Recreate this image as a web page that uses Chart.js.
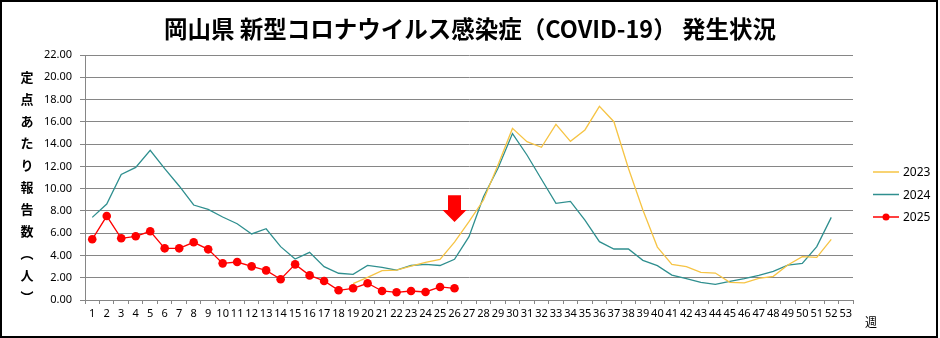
<!DOCTYPE html>
<html lang="ja">
<head>
<meta charset="UTF-8">
<title>岡山県 新型コロナウイルス感染症（COVID-19） 発生状況</title>
<script src="https://cdn.jsdelivr.net/npm/chart.js"></script>
<style>
  html, body { margin: 0; padding: 0; background: #fff; }
  #wrap { width: 940px; height: 338px; position: relative; }
</style>
</head>
<body>
<div id="wrap"><canvas id="chart" width="940" height="338"></canvas></div>
<script>
// weeks 1..53
const weeks = [];
for (let i = 1; i <= 53; i++) weeks.push(String(i));

const yTicks = [0, 2, 4, 6, 8, 10, 12, 14, 16, 18, 20, 22];

const cases2023 = [null, null, null, null, null, null, null, null, null, null,
  null, null, null, null, null, null, null, null, 1.47, 2.03,
  2.63, 2.69, 3.05, 3.38, 3.65, 5.2, 7.03, 8.98, 12.12, 15.41,
  14.22, 13.71, 15.77, 14.25, 15.27, 17.39, 16.01, 11.83, 8.08, 4.75,
  3.2, 3.0, 2.48, 2.42, 1.59, 1.53, 1.95, 2.13, 3.14, 3.89,
  3.83, 5.45, null];

const cases2024 = [7.42, 8.62, 11.28, 11.91, 13.44, 11.8, 10.24, 8.53, 8.14, 7.45,
  6.85, 5.93, 6.4, 4.79, 3.68, 4.28, 3.0, 2.4, 2.3, 3.1,
  2.93, 2.69, 3.1, 3.2, 3.1, 3.65, 5.69, 9.28, 11.83, 14.94,
  13.02, 10.84, 8.68, 8.86, 7.18, 5.24, 4.58, 4.58, 3.56, 3.08,
  2.24, 1.92, 1.59, 1.41, 1.68, 1.92, 2.22, 2.57, 3.14, 3.29,
  4.79, 7.42, null];

const cases2025 = [5.45, 7.54, 5.54, 5.72, 6.17, 4.64, 4.64, 5.18, 4.55, 3.29,
  3.41, 3.02, 2.66, 1.86, 3.2, 2.21, 1.71, 0.87, 1.05, 1.5,
  0.81, 0.69, 0.81, 0.72, 1.17, 1.05];

const seriesNames = ['2023', '2024', '2025'];
const seriesColors = ['#F6C445', '#2F8F8F', '#FF0000'];

// arrow annotation (week, value range)
const arrowWeek = '26';
const arrowTop = 9.4;
const arrowTip = 7.0;

const titleText = '岡山県 新型コロナウイルス感染症（COVID-19） 発生状況';
const yTitleChars = ['定', '点', 'あ', 'た', 'り', '報', '告', '数', '︵', '人', '︶'];

const jpFont = '"Noto Sans CJK JP", "Noto Sans", sans-serif';
const numFont = '"Noto Sans", "Liberation Sans", sans-serif';

const decor = {
  id: 'decor',
  afterDraw(chart) {
    const ctx = chart.ctx;
    const x = chart.scales.x, y = chart.scales.y;
    ctx.save();

    // title
    ctx.fillStyle = '#000';
    ctx.font = 'bold 23.5px ' + jpFont;
    ctx.textAlign = 'center';
    ctx.textBaseline = 'middle';
    ctx.fillText(titleText, 470, 29);

    // vertical y title
    ctx.font = 'bold 13px ' + jpFont;
    yTitleChars.forEach((c, i) => {
      ctx.fillText(c, 27, 77 + i * 22);
    });

    // week unit
    ctx.font = '12px ' + jpFont;
    ctx.fillText('週', 871, 322);

    // arrow
    const ax = x.getPixelForValue(weeks.indexOf(arrowWeek));
    const aTop = y.getPixelForValue(arrowTop);
    const aTip = y.getPixelForValue(arrowTip);
    const headH = (aTip - aTop) * 0.45;
    ctx.fillStyle = '#FF0000';
    ctx.beginPath();
    ctx.moveTo(ax - 6.5, aTop);
    ctx.lineTo(ax + 6.5, aTop);
    ctx.lineTo(ax + 6.5, aTip - headH);
    ctx.lineTo(ax + 12, aTip - headH);
    ctx.lineTo(ax, aTip);
    ctx.lineTo(ax - 12, aTip - headH);
    ctx.lineTo(ax - 6.5, aTip - headH);
    ctx.closePath();
    ctx.fill();

    // legend
    ctx.font = '12px ' + numFont;
    ctx.textAlign = 'left';
    seriesNames.forEach((name, i) => {
      const ly = 172 + i * 22.5;
      ctx.strokeStyle = seriesColors[i];
      ctx.lineWidth = 1.5;
      ctx.beginPath();
      ctx.moveTo(873, ly);
      ctx.lineTo(899, ly);
      ctx.stroke();
      if (i === 2) {
        ctx.fillStyle = seriesColors[i];
        ctx.beginPath();
        ctx.arc(886, ly, 3.5, 0, Math.PI * 2);
        ctx.fill();
      }
      ctx.fillStyle = '#000';
      ctx.fillText(name, 903, ly + 1);
    });

    // outer frame
    ctx.strokeStyle = '#000';
    ctx.lineWidth = 2;
    ctx.strokeRect(1, 1, 936, 336);
    ctx.restore();
  }
};

new Chart(document.getElementById('chart'), {
  type: 'line',
  data: {
    labels: weeks,
    datasets: [
      { label: seriesNames[0], data: cases2023, borderColor: seriesColors[0], borderWidth: 1.3,
        pointRadius: 0, tension: 0, spanGaps: false },
      { label: seriesNames[1], data: cases2024, borderColor: seriesColors[1], borderWidth: 1.3,
        pointRadius: 0, tension: 0 },
      { label: seriesNames[2], data: cases2025, borderColor: seriesColors[2], borderWidth: 1.3,
        pointRadius: 4.3, pointBackgroundColor: seriesColors[2], pointBorderWidth: 0, tension: 0 }
    ]
  },
  options: {
    responsive: false,
    animation: false,
    layout: { padding: { top: 55, right: 87, left: 0, bottom: 0 } },
    plugins: {
      legend: { display: false },
      title: { display: false },
      tooltip: { enabled: false }
    },
    scales: {
      x: {
        offset: true,
        grid: { offset: true, drawOnChartArea: false, drawTicks: true, tickLength: 4, color: '#868686' },
        border: { color: '#868686', width: 1 },
        ticks: { autoSkip: false, maxRotation: 0, padding: 3, color: '#000', font: { size: 11, family: numFont } },
        afterFit(s) { s.height = 38; }
      },
      y: {
        min: 0,
        max: 22,
        afterBuildTicks(s) { s.ticks = yTicks.map(v => ({ value: v })); },
        grid: { color: '#868686', tickLength: 5 },
        border: { color: '#868686', width: 1 },
        ticks: {
          padding: 8, color: '#000', font: { size: 11, family: numFont },
          callback: v => Number(v).toFixed(2)
        },
        afterFit(s) { s.width = 85; }
      }
    }
  },
  plugins: [decor]
});
</script>
</body>
</html>
